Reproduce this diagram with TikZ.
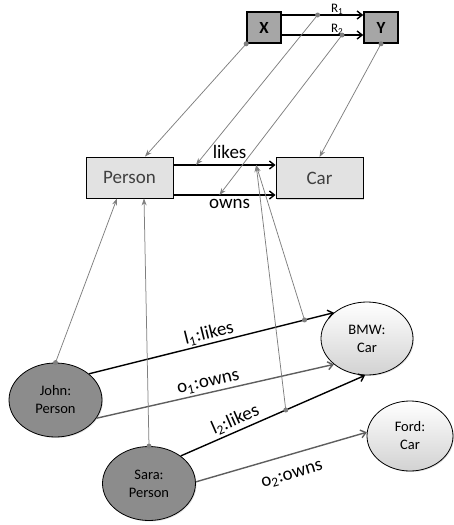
\documentclass[tikz,border=0pt]{standalone}
\usepackage{fontspec}
\setmainfont{Carlito}
\usetikzlibrary{shapes.geometric,arrows.meta,shadows}

\definecolor{boxfill}{HTML}{E2E2E2}
\definecolor{keyfill}{HTML}{A6A6A6}
\definecolor{instfill}{HTML}{8C8C8C}
\definecolor{carbottom}{HTML}{D2D2D2}
\definecolor{mapline}{HTML}{7F7F7F}
\definecolor{ownline}{HTML}{5E5E5E}
\definecolor{boxtext}{HTML}{404040}

\begin{document}
\begin{tikzpicture}[x=1pt,y=-1pt,
  keybox/.style={draw, line width=1.6pt, fill=keyfill, minimum width=34pt,
    minimum height=31pt, inner sep=0pt, font=\fontsize{17}{17}\selectfont\bfseries},
  classbox/.style={draw, line width=0.9pt, fill=boxfill, minimum width=87pt,
    minimum height=41pt, inner sep=0pt, font=\fontsize{19}{19}\selectfont, text=boxtext,
    drop shadow={shadow xshift=1.2pt, shadow yshift=-1.2pt, opacity=0.3}},
  person/.style={ellipse, draw, line width=0.8pt, fill=instfill, minimum width=93pt,
    minimum height=74pt, inner sep=0pt, align=center, font=\fontsize{14.5}{18}\selectfont,
    drop shadow={shadow xshift=1pt, shadow yshift=-1pt, opacity=0.25}},
  car/.style={ellipse, draw, line width=0.8pt, top color=white, bottom color=carbottom,
    minimum width=92pt, minimum height=73pt, inner sep=0pt, align=center,
    font=\fontsize{14.5}{18}\selectfont,
    drop shadow={shadow xshift=1pt, shadow yshift=-1pt, opacity=0.25}},
  rel/.style={-{Straight Barb[length=5pt,width=8pt,line width=1.4pt]}, line width=1.4pt},
  own/.style={rel, draw=ownline},
  map/.style={draw=mapline, line width=0.75pt, -{Stealth[length=7pt,width=5pt]}},
  dot/.style={circle, fill=mapline, inner sep=0pt, minimum size=5pt},
  lbl/.style={font=\fontsize{19}{19}\selectfont, inner sep=1pt},
  rlbl/.style={font=\fontsize{13}{13}\selectfont, inner sep=0.5pt},
]
\useasboundingbox (0,0) rectangle (453,525);

% schema level
\node[keybox] (X) at (264,27.5) {X};
\node[keybox] (Y) at (381,27.5) {Y};
\coordinate (yR1) at (0,15);
\coordinate (yR2) at (0,35);
\draw[rel] (X.east |- yR1) -- coordinate[pos=0.44] (r1)
  node[rlbl, pos=0.68, above=-0.5pt] {R\textsubscript{1}} (Y.west |- yR1);
\draw[rel] (X.east |- yR2) -- coordinate[pos=0.74] (r2)
  node[rlbl, pos=0.68, above=-0.5pt] {R\textsubscript{2}} (Y.west |- yR2);

% class level
\node[classbox] (Person) at (129.5,177.5) {Person};
\node[classbox] (Car) at (319.5,178) {Car};
\coordinate (yLikes) at (0,165);
\coordinate (yOwns) at (0,195);
\draw[rel] (Person.east |- yLikes) -- coordinate[pos=0.22] (likesA)
  coordinate[pos=0.81] (likesB)
  node[lbl, pos=0.55, above=5pt] {likes} (Car.west |- yLikes);
\draw[rel] (Person.east |- yOwns) -- coordinate[pos=0.45] (ownsA)
  node[lbl, pos=0.55, below=3pt] {owns} (Car.west |- yOwns);

% instance level
\node[person] (John) at (55.5,400) {John:\\Person};
\node[person] (Sara) at (149,483.5) {Sara:\\Person};
\node[car] (BMW) at (367,338.5) {BMW:\\Car};
\node[car, minimum width=86pt, minimum height=70pt] (Ford) at (410,436) {Ford:\\Car};

\draw[rel] (John.38) -- coordinate[pos=0.88] (l1)
  node[lbl, sloped, pos=0.5, above=0.5pt] {l\textsubscript{1}:likes} (BMW.142);
\draw[own] (John.-24) --
  node[lbl, sloped, pos=0.48, above=1.5pt] {o\textsubscript{1}:owns} (BMW.218);
\draw[rel] (Sara.41) -- coordinate[pos=0.57] (l2)
  node[lbl, sloped, pos=0.32, above=1.5pt] {l\textsubscript{2}:likes} (BMW.267);
\draw[own] (Sara.2) --
  node[lbl, sloped, pos=0.53, below=13pt] {o\textsubscript{2}:owns} (Ford.175);

% typing links
\draw[map] (X.south west) -- ([xshift=15.5pt]Person.north);
\draw[map] (r1) -- (likesA);
\draw[map] (r2) -- (ownsA);
\draw[map] (Y.south) -- (Car.north);
\draw[map] (John.north) -- ([xshift=-12.5pt]Person.south);
\draw[map] (Sara.north) -- ([xshift=14.5pt]Person.south);
\draw[map] (l1) -- (likesB);
\draw[map] (l2) -- (likesB);

\foreach \d in {X.south west, r1, r2, Y.south, John.north, Sara.north, l1, l2}
  \node[dot] at (\d) {};
\end{tikzpicture}
\end{document}
